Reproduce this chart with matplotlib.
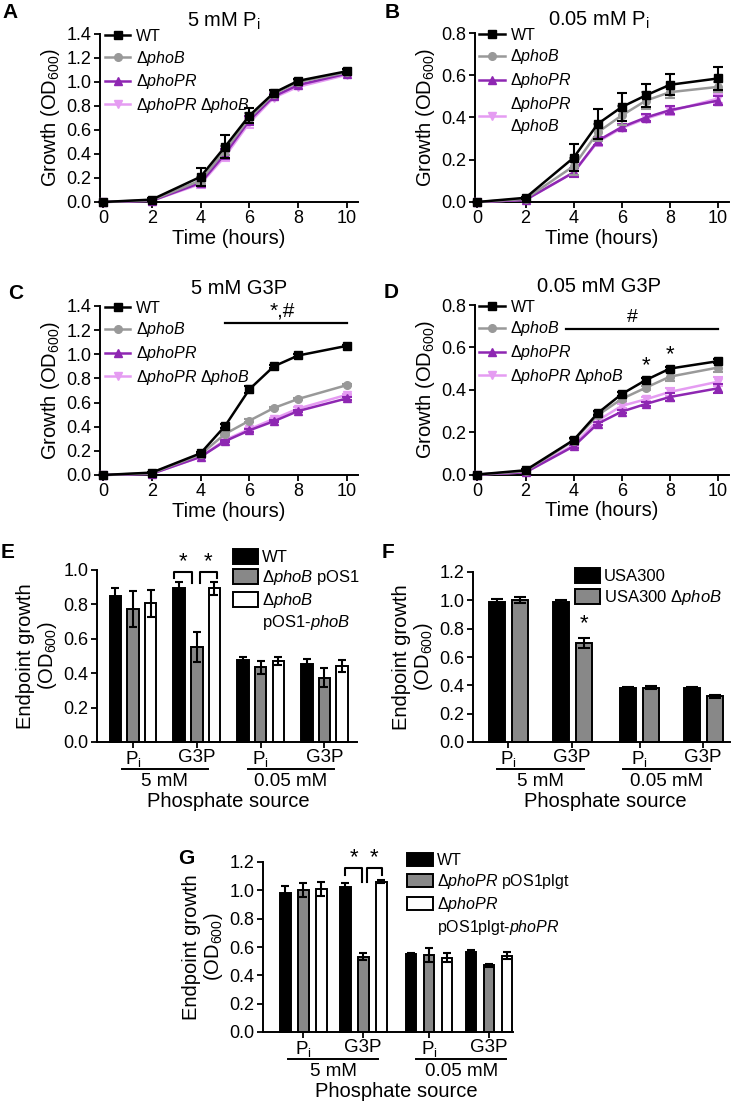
import numpy as np
import matplotlib
matplotlib.use("Agg")
import matplotlib.pyplot as plt
from matplotlib.ticker import FormatStrFormatter, MultipleLocator
from matplotlib.patches import Rectangle

plt.rcParams['font.family'] = ['Liberation Sans', 'DejaVu Sans']
plt.rcParams['mathtext.fontset'] = 'custom'
plt.rcParams['mathtext.rm'] = 'Liberation Sans'
plt.rcParams['mathtext.it'] = 'Liberation Sans:italic'
plt.rcParams['mathtext.bf'] = 'Liberation Sans:bold'
plt.rcParams['mathtext.default'] = 'regular'

# ---------------- data ----------------
time_h = [0, 2, 4, 5, 6, 7, 8, 10]
strains = ["WT", r"Δ$\it{phoB}$", r"Δ$\it{phoPR}$", r"Δ$\it{phoPR}$ Δ$\it{phoB}$"]

# A: 5 mM Pi
a_wt = [0, 0.02, 0.21, 0.46, 0.72, 0.91, 1.01, 1.09]
a_phoB = [0, 0.015, 0.18, 0.43, 0.70, 0.90, 1.00, 1.08]
a_phoPR = [0, 0.01, 0.16, 0.40, 0.68, 0.88, 0.975, 1.07]
a_dbl = [0, 0.01, 0.15, 0.38, 0.66, 0.87, 0.96, 1.06]
a_wt_err = [0, 0.01, 0.075, 0.095, 0.06, 0.02, 0.015, 0.02]
a_mut_err = [0, 0.005, 0.03, 0.04, 0.04, 0.02, 0.01, 0.01]

# B: 0.05 mM Pi
b_wt = [0, 0.02, 0.21, 0.37, 0.45, 0.505, 0.555, 0.585]
b_phoB = [0, 0.015, 0.17, 0.33, 0.41, 0.48, 0.52, 0.545]
b_phoPR = [0, 0.01, 0.14, 0.29, 0.355, 0.40, 0.435, 0.48]
b_dbl = [0, 0.01, 0.14, 0.285, 0.35, 0.395, 0.43, 0.49]
b_wt_err = [0, 0.005, 0.065, 0.07, 0.065, 0.055, 0.05, 0.055]
b_phoB_err = [0, 0.005, 0.04, 0.04, 0.045, 0.04, 0.03, 0.025]
b_mut_err = [0, 0.005, 0.02, 0.02, 0.015, 0.015, 0.02, 0.02]

# C: 5 mM G3P
c_wt = [0, 0.02, 0.18, 0.405, 0.71, 0.90, 0.99, 1.07]
c_phoB = [0, 0.015, 0.17, 0.34, 0.45, 0.555, 0.63, 0.745]
c_phoPR = [0, 0.01, 0.15, 0.28, 0.37, 0.445, 0.53, 0.635]
c_dbl = [0, 0.01, 0.15, 0.29, 0.38, 0.465, 0.55, 0.665]
c_wt_err = [0, 0.005, 0.01, 0.015, 0.03, 0.015, 0.01, 0.01]
c_mut_err = [0, 0.005, 0.01, 0.01, 0.01, 0.01, 0.01, 0.01]

# D: 0.05 mM G3P
d_wt = [0, 0.02, 0.163, 0.29, 0.38, 0.446, 0.50, 0.535]
d_phoB = [0, 0.015, 0.16, 0.28, 0.357, 0.41, 0.462, 0.505]
d_phoPR = [0, 0.01, 0.133, 0.24, 0.297, 0.333, 0.366, 0.407]
d_dbl = [0, 0.01, 0.14, 0.255, 0.324, 0.355, 0.39, 0.438]
d_wt_err = [0, 0.005, 0.008, 0.008, 0.008, 0.008, 0.008, 0.01]
d_mut_err = [0, 0.005, 0.008, 0.008, 0.008, 0.01, 0.02, 0.02]

# E
groups = [r"P$_{\rm i}$", "G3P", r"P$_{\rm i}$", "G3P"]
conc = ["5 mM", "0.05 mM"]
e_labels = ["WT", r"Δ$\it{phoB}$ pOS1", r"Δ$\it{phoB}$", r"pOS1-$\it{phoB}$"]
e_wt = [0.85, 0.893, 0.477, 0.452]
e_wt_err = [0.043, 0.037, 0.016, 0.029]
e_mut = [0.773, 0.554, 0.434, 0.374]
e_mut_err = [0.107, 0.087, 0.039, 0.054]
e_comp = [0.806, 0.893, 0.473, 0.442]
e_comp_err = [0.078, 0.04, 0.023, 0.035]

# F
f_labels = ["USA300", r"USA300 Δ$\it{phoB}$"]
f_wt = [0.988, 0.988, 0.381, 0.381]
f_wt_err = [0.02, 0.017, 0.007, 0.005]
f_mut = [1.0, 0.70, 0.384, 0.322]
f_mut_err = [0.022, 0.035, 0.013, 0.012]

# G
g_labels = ["WT", r"Δ$\it{phoPR}$ pOS1plgt", r"Δ$\it{phoPR}$", r"pOS1plgt-$\it{phoPR}$"]
g_wt = [0.984, 1.024, 0.553, 0.565]
g_wt_err = [0.045, 0.028, 0.008, 0.014]
g_mut = [1.005, 0.53, 0.546, 0.472]
g_mut_err = [0.05, 0.025, 0.05, 0.01]
g_comp = [1.01, 1.062, 0.525, 0.54]
g_comp_err = [0.048, 0.008, 0.032, 0.025]

# ---------------- layout ----------------
W, H = 733, 1107
fig = plt.figure(figsize=(W / 100, H / 100), dpi=100)


def rect(l, r, t, b):
    return [l / W, 1 - b / H, (r - l) / W, (b - t) / H]


TICK = 13
LAB = 14.5
LEG = 11.5

colors = ["black", "#999999", "#8E27B2", "#E59CF2"]
markers = ["s", "o", "^", "v"]


def style_axes(ax):
    for s in ["top", "right"]:
        ax.spines[s].set_visible(False)
    for s in ["left", "bottom"]:
        ax.spines[s].set_linewidth(1.4)
    ax.tick_params(direction="out", length=4, width=1.3, labelsize=TICK, pad=2)


def growth(ax, series, errs, ymax, title, title_x, title_pad, multiline_leg=False):
    zs = [6, 5, 4, 3]
    handles = []
    labels = []
    for i, (y, e) in enumerate(zip(series, errs)):
        cont = ax.errorbar(time_h, y, yerr=e, color=colors[i], marker=markers[i], ms=5.5,
                           lw=1.8, elinewidth=1.5, capsize=3.5, capthick=1.5,
                           zorder=zs[i], clip_on=False)
        handles.append(cont[0])
        labels.append(strains[i] if not (multiline_leg and i == 3)
                      else "Δ$\\it{phoPR}$\nΔ$\\it{phoB}$")
    ax.set_xlim(-0.12, 10.45)
    ax.set_ylim(0, ymax)
    ax.xaxis.set_major_locator(MultipleLocator(2))
    ax.yaxis.set_major_locator(MultipleLocator(0.2))
    ax.yaxis.set_major_formatter(FormatStrFormatter("%.1f"))
    style_axes(ax)
    ax.set_xlabel("Time (hours)", fontsize=LAB, labelpad=1)
    ax.set_ylabel("Growth (OD$_{600}$)", fontsize=LAB, labelpad=3)
    ax.set_title(title, fontsize=LAB, pad=title_pad, x=title_x)
    leg = ax.legend(handles, labels, loc="upper left", bbox_to_anchor=(0.0, 1.06),
                    frameon=False, fontsize=LEG, handlelength=1.6, handletextpad=0.35,
                    labelspacing=0.3, borderpad=0, borderaxespad=0.3)
    return leg


axA = fig.add_axes(rect(100, 358, 34, 202))
growth(axA, [a_wt, a_phoB, a_phoPR, a_dbl], [a_wt_err, a_mut_err, a_mut_err, a_mut_err],
       1.4, r"5 mM P$_{\rm i}$", 0.48, 5)

axB = fig.add_axes(rect(474.5, 729, 33, 202))
growth(axB, [b_wt, b_phoB, b_phoPR, b_dbl], [b_wt_err, b_phoB_err, b_mut_err, b_mut_err],
       0.8, r"0.05 mM P$_{\rm i}$", 0.49, 5, multiline_leg=True)

axC = fig.add_axes(rect(100, 358, 306, 475))
growth(axC, [c_wt, c_phoB, c_phoPR, c_dbl], [c_wt_err, c_mut_err, c_mut_err, c_mut_err],
       1.4, "5 mM G3P", 0.54, 9)
axC.plot([5, 10], [1.26, 1.26], color="black", lw=1.6)
axC.text(7.35, 1.28, "*,#", ha="center", va="bottom", fontsize=15)

axD = fig.add_axes(rect(474.5, 729, 305, 474.5))
growth(axD, [d_wt, d_phoB, d_phoPR, d_dbl], [d_wt_err, d_mut_err, d_mut_err, d_mut_err],
       0.8, "0.05 mM G3P", 0.49, 9)
axD.plot([3.7, 10], [0.688, 0.688], color="black", lw=1.6)
axD.text(6.45, 0.70, "#", ha="center", va="bottom", fontsize=14)
axD.text(7, 0.465, "*", ha="center", va="bottom", fontsize=16)
axD.text(8, 0.515, "*", ha="center", va="bottom", fontsize=16)


def bar_panel(ax, pos, offsets, width, vals, errs, fills, labels, ymax, capsize,
              line_spans):
    pos = np.array(pos)
    handles = []
    for off, v, e, fc, lab in zip(offsets, vals, errs, fills, labels):
        b = ax.bar(pos + off, v, width, yerr=e, color=fc, edgecolor="black", linewidth=1.4,
                   error_kw=dict(elinewidth=1.5, capthick=1.5, capsize=capsize, ecolor="black"),
                   label=lab, clip_on=False)
        handles.append(b)
    ax.set_ylim(0, ymax)
    ax.yaxis.set_major_locator(MultipleLocator(0.2))
    ax.yaxis.set_major_formatter(FormatStrFormatter("%.1f"))
    style_axes(ax)
    ax.set_xticks(pos)
    ax.set_xticklabels(groups, fontsize=13.5)
    ax.tick_params(axis="x", length=4, pad=1)
    ax.set_ylabel("Endpoint growth\n(OD$_{600}$)", fontsize=LAB, labelpad=3, linespacing=1.1)
    tr = ax.get_xaxis_transform()
    h_ax = ax.get_position().height * H
    yl = -27.0 / h_ax
    yt = -31.0 / h_ax
    yp = -50.0 / h_ax
    for (x0, x1), c in zip(line_spans, conc):
        ax.plot([x0, x1], [yl, yl], color="black", lw=1.4, transform=tr, clip_on=False)
        ax.text((x0 + x1) / 2, yt, c, ha="center", va="top", fontsize=13.5, transform=tr)
    ax.text((pos[0] + pos[-1]) / 2, yp, "Phosphate source", ha="center", va="top",
            fontsize=14.5, transform=tr)
    return handles


def bracket(ax, x0, x1, ytop, yl, yr):
    ax.plot([x0, x0, x1, x1], [yl, ytop, ytop, yr], color="black", lw=1.5, clip_on=False)
    ax.text((x0 + x1) / 2, ytop + 0.0, "*", ha="center", va="bottom", fontsize=16)


blank = Rectangle((0, 0), 1, 1, fill=False, edgecolor="none", visible=False)

# E
axE = fig.add_axes(rect(97, 357, 570, 742))
e_pos = [0, 1, 2, 3]
hE = bar_panel(axE, e_pos, [-0.277, 0, 0.277], 0.18, [e_wt, e_mut, e_comp],
               [e_wt_err, e_mut_err, e_comp_err], ["black", "#888888", "white"],
               e_labels[:3], 1.0, 3.2, [(-0.18, 1.18), (1.8, 3.15)])
axE.set_xlim(-0.564, 3.51)
bracket(axE, 0.64, 0.92, 0.99, 0.955, 0.925)
bracket(axE, 1.05, 1.31, 0.99, 0.925, 0.955)
axE.legend(hE + [blank], e_labels, loc="upper left", bbox_to_anchor=(233 / W, 1 - 549 / H),
           bbox_transform=fig.transFigure, frameon=False, fontsize=12, handlelength=1.5,
           handleheight=1.0, handletextpad=0.25, labelspacing=0.2, borderpad=0, borderaxespad=0)

# F
axF = fig.add_axes(rect(473, 730, 572, 742))
f_pos = [0, 1, 2.06, 3.05]
hF = bar_panel(axF, f_pos, [-0.18, 0.18], 0.25, [f_wt, f_mut], [f_wt_err, f_mut_err],
               ["black", "#888888"], f_labels, 1.2, 4.5, [(-0.18, 1.19), (1.79, 3.15)])
axF.set_xlim(-0.55, 3.47)
axF.text(1.18, 0.76, "*", ha="center", va="bottom", fontsize=16)
axF.legend(hF, f_labels, loc="upper left", bbox_to_anchor=(575 / W, 1 - 568 / H),
           bbox_transform=fig.transFigure, frameon=False, fontsize=12, handlelength=1.5,
           handleheight=1.0, handletextpad=0.25, labelspacing=0.25, borderpad=0, borderaxespad=0)

# G
axG = fig.add_axes(rect(263, 513, 862, 1032))
g_pos = [0, 1, 2.1, 3.1]
hG = bar_panel(axG, g_pos, [-0.3, 0, 0.3], 0.18, [g_wt, g_mut, g_comp],
               [g_wt_err, g_mut_err, g_comp_err], ["black", "#888888", "white"],
               g_labels[:3], 1.2, 3.2, [(-0.245, 1.255), (1.88, 3.39)])
axG.set_xlim(-0.67, 3.5)
bracket(axG, 0.7, 0.98, 1.155, 1.105, 1.06)
bracket(axG, 1.06, 1.32, 1.155, 1.06, 1.105)
axG.legend(hG + [blank], g_labels, loc="upper left", bbox_to_anchor=(407 / W, 1 - 853 / H),
           bbox_transform=fig.transFigure, frameon=False, fontsize=11.5, handlelength=1.6,
           handleheight=0.9, handletextpad=0.3, labelspacing=0.25, borderpad=0, borderaxespad=0)

# panel letters
for lab, x, y in [("A", 10, 12), ("B", 392, 12), ("C", 16, 293), ("D", 391, 292),
                  ("E", 8, 553), ("F", 388, 552), ("G", 186, 858)]:
    fig.text(x / W, 1 - y / H, lab, fontsize=15, fontweight="bold", ha="center", va="center")

fig.savefig("out.png", dpi=100)
